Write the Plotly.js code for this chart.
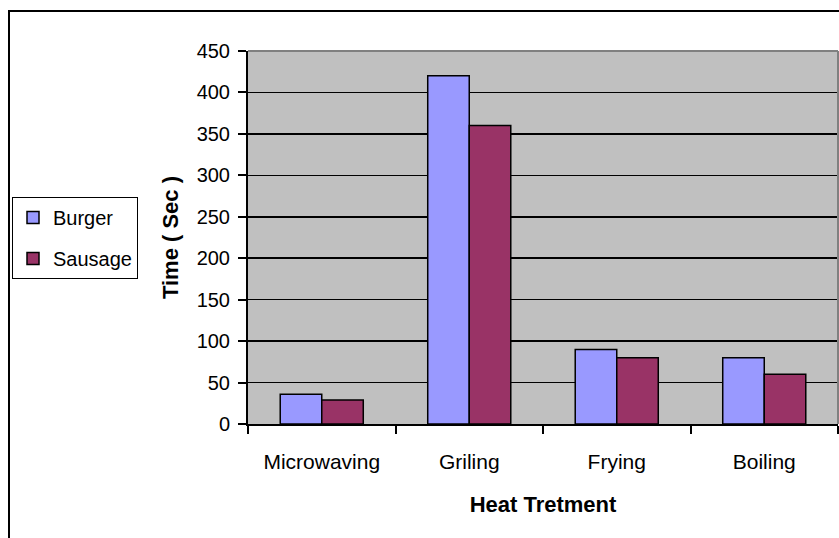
<!DOCTYPE html>
<html>
<head>
<meta charset="utf-8">
<script src="https://cdn.plot.ly/plotly-3.0.1.min.js"></script>
<style>html,body{margin:0;padding:0;background:#fff;}#chart{width:839px;height:538px;}</style>
</head>
<body>
<div id="chart"></div>
<script>
const categories = ["Microwaving", "Griling", "Frying", "Boiling"];
const burger = [36, 420, 90, 80];
const sausage = [29, 360, 80, 60];
const seriesNames = ["Burger", "Sausage"];
const yTicks = [0, 50, 100, 150, 200, 250, 300, 350, 400, 450];

const FONT = "Liberation Sans, Arial, sans-serif";
const L = 248, R = 1, T = 51, B = 114, W = 839, H = 538;
const pw = W - L - R, ph = H - T - B;
const px = v => (v - L) / pw;
const py = v => (H - B - v) / ph;

const traces = [
  {type: "bar", name: seriesNames[0], x: categories, y: burger, legendgroup: "a",
   marker: {color: "#9999FF", line: {color: "#000", width: 1.5}}, hoverinfo: "skip"},
  {type: "bar", name: seriesNames[1], x: categories, y: sausage, legendgroup: "b",
   marker: {color: "#993366", line: {color: "#000", width: 1.5}}, hoverinfo: "skip"}
];

const layout = {
  width: W, height: H,
  margin: {l: L, r: R, t: T, b: B, pad: 0},
  paper_bgcolor: "#fff",
  plot_bgcolor: "#C0C0C0",
  font: {family: FONT, size: 20, color: "#000"},
  barmode: "group",
  bargap: 0.437,
  bargroupgap: 0,
  showlegend: true,
  legend: {
    x: px(12), y: py(197), xanchor: "left", yanchor: "top",
    bgcolor: "#fff", bordercolor: "#000", borderwidth: 1,
    font: {family: FONT, size: 20, color: "#000"},
    traceorder: "grouped", tracegroupgap: 12, itemwidth: 30
  },
  xaxis: {
    type: "category",
    tickson: "boundaries",
    ticks: "outside", ticklen: 8, tickwidth: 2, tickcolor: "#000",
    showline: true, linecolor: "#000", linewidth: 2,
    showgrid: false, zeroline: false,
    ticklabelstandoff: 18,
    tickfont: {family: FONT, size: 21},
    title: {text: "<b>Heat Tretment</b>", font: {family: FONT, size: 22}, standoff: 24}
  },
  yaxis: {
    range: [0, 450],
    tickvals: yTicks,
    ticktext: yTicks.map(String),
    ticks: "outside", ticklen: 8, tickwidth: 2, tickcolor: "#000",
    showline: true, linecolor: "#000", linewidth: 2,
    showgrid: true, gridcolor: "#000", gridwidth: 1.5,
    zeroline: false,
    ticklabelstandoff: 4,
    tickfont: {family: FONT, size: 20},
    title: {text: "<b>Time ( Sec )</b>", font: {family: FONT, size: 22}, standoff: 12}
  },
  shapes: [
    {type: "line", xref: "paper", yref: "paper", x0: 0, x1: 1, y0: 1, y1: 1,
     line: {color: "#808080", width: 2}, layer: "above"},
    {type: "line", xref: "paper", yref: "paper", x0: 1, x1: 1, y0: 0, y1: 1,
     line: {color: "#808080", width: 2}, layer: "above"},
    {type: "rect", xref: "paper", yref: "paper",
     x0: px(9), x1: px(850), y0: py(560), y1: py(11),
     line: {color: "#000", width: 2}, fillcolor: "rgba(0,0,0,0)", layer: "below"}
  ]
};

Plotly.newPlot("chart", traces, layout, {staticPlot: true, displayModeBar: false});
</script>
</body>
</html>
